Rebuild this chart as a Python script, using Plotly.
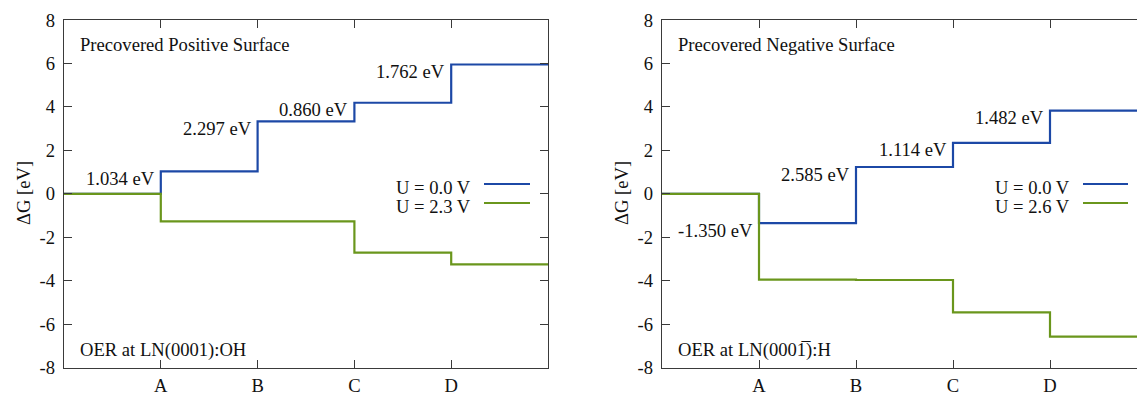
import numpy as np
import plotly.graph_objects as go

# Reaction intermediates along the OER pathway
STATES = ["A", "B", "C", "D"]
X_POS = [1, 2, 3, 4]

# Free-energy steps (eV) at U = 0 V
STEPS_POS = [1.034, 2.297, 0.860, 1.762]
STEPS_NEG = [-1.350, 2.585, 1.114, 1.482]

# Free-energy levels under applied potential
LEVELS_POS_U = [0.0, -1.266, -1.269, -2.709, -3.247]
LEVELS_NEG_U = [0.0, -3.950, -3.965, -5.451, -6.569]

U_POS = "U = 2.3 V"
U_NEG = "U = 2.6 V"
U_ZERO = "U = 0.0 V"

Y_TICKS = [-8, -6, -4, -2, 0, 2, 4, 6, 8]
Y_TICK_TEXT = [str(v) for v in Y_TICKS]

BLUE = "#1c48a6"
GREEN = "#6a961c"
AXIS = "#3a3a3a"
FONT = "Liberation Serif"
FS = 18.6

W, H = 1137, 396


def px(x):
    return x / W


def py(y):
    return 1 - y / H


def step_xy(levels):
    xs = [0] + X_POS + [5]
    ys = list(levels) + [levels[-1]]
    return xs, ys


fig = go.Figure()

panels = [
    dict(steps=STEPS_POS, green=LEVELS_POS_U, ulabel=U_POS, xa="x", ya="y",
         top="Precovered Positive Surface", bottom="OER at LN(0001):OH",
         x0=64, legend_right=473, line_x=(484, 530)),
    dict(steps=STEPS_NEG, green=LEVELS_NEG_U, ulabel=U_NEG, xa="x2", ya="y2",
         top="Precovered Negative Surface", bottom="OER at LN(000\u0031\u0305):H",
         x0=662, legend_right=1072, line_x=(1083, 1128)),
]

annotations = []
shapes = []

for p in panels:
    blue_levels = np.concatenate([[0.0], np.cumsum(p["steps"])])
    bx, by = step_xy(blue_levels)
    gx, gy = step_xy(p["green"])
    fig.add_trace(go.Scatter(x=bx, y=by, mode="lines", line_shape="hv",
                             line=dict(color=BLUE, width=2.2),
                             xaxis=p["xa"], yaxis=p["ya"], showlegend=False,
                             name=U_ZERO))
    fig.add_trace(go.Scatter(x=gx, y=gy, mode="lines", line_shape="hv",
                             line=dict(color=GREEN, width=2.2),
                             xaxis=p["xa"], yaxis=p["ya"], showlegend=False,
                             name=p["ulabel"]))

    # step energy labels next to each rise/drop
    for i, s in enumerate(p["steps"]):
        annotations.append(dict(
            x=X_POS[i], y=blue_levels[i + 1], xref=p["xa"], yref=p["ya"],
            text=f"{s:.3f} eV", showarrow=False, xanchor="right",
            yanchor="middle", xshift=-4, yshift=-7,
            font=dict(family=FONT, size=FS, color="#111")))

    # panel captions
    annotations.append(dict(x=px(p["x0"] + 14), y=py(44), xref="paper",
                            yref="paper", text=p["top"], showarrow=False,
                            xanchor="left", yanchor="middle",
                            font=dict(family=FONT, size=FS, color="#111")))
    annotations.append(dict(x=px(p["x0"] + 14), y=py(350), xref="paper",
                            yref="paper", text=p["bottom"], showarrow=False,
                            xanchor="left", yanchor="middle",
                            font=dict(family=FONT, size=FS, color="#111")))
    # y title
    annotations.append(dict(x=px(p["x0"] - 41), y=py(193), xref="paper",
                            yref="paper", text="\u0394G [eV]", showarrow=False,
                            textangle=-90, xanchor="center", yanchor="middle",
                            font=dict(family=FONT, size=FS, color="#111")))

    # key: text on the left, sample line on the right
    for label, color, yy in [(U_ZERO, BLUE, 184), (p["ulabel"], GREEN, 203)]:
        annotations.append(dict(x=px(p["legend_right"]), y=py(yy + 3),
                                xref="paper", yref="paper", text=label,
                                showarrow=False, xanchor="right",
                                yanchor="middle",
                                font=dict(family=FONT, size=FS, color="#111")))
        shapes.append(dict(type="line", xref="paper", yref="paper",
                           x0=px(p["line_x"][0]), x1=px(p["line_x"][1]),
                           y0=py(yy), y1=py(yy),
                           line=dict(color=color, width=2.2)))

y_dom = [py(367.7), py(20)]

xcommon = dict(tickvals=X_POS, ticktext=STATES, ticks="inside", ticklen=8,
               tickwidth=1.2, tickcolor=AXIS, showline=True, linecolor=AXIS,
               linewidth=1.4, showgrid=False, zeroline=False,
               automargin=False, ticklabelstandoff=1,
               tickfont=dict(family=FONT, size=FS, color="#111"))
ycommon = dict(range=[-8, 8], tickvals=Y_TICKS, ticktext=Y_TICK_TEXT,
               ticks="inside", ticklen=8, tickwidth=1.2, tickcolor=AXIS,
               showline=True, linecolor=AXIS, linewidth=1.4, showgrid=False,
               zeroline=False, automargin=False, ticklabelstandoff=4,
               tickfont=dict(family=FONT, size=FS, color="#111"))

fig.update_layout(
    template="none",
    width=W, height=H,
    margin=dict(l=0, r=0, t=0, b=0, pad=0),
    paper_bgcolor="white", plot_bgcolor="white",
    showlegend=False,
    xaxis=dict(xcommon, domain=[px(64), px(548)], range=[0, 5],
               mirror="allticks", anchor="y"),
    yaxis=dict(ycommon, domain=y_dom, mirror="allticks", anchor="x"),
    xaxis2=dict(xcommon, domain=[px(662), 1.0],
                range=[0, (W - 662) / 97.0], mirror="allticks", anchor="y2"),
    yaxis2=dict(ycommon, domain=y_dom, mirror=False, anchor="x2"),
    annotations=annotations,
    shapes=shapes,
)

fig.write_html("out.html")
